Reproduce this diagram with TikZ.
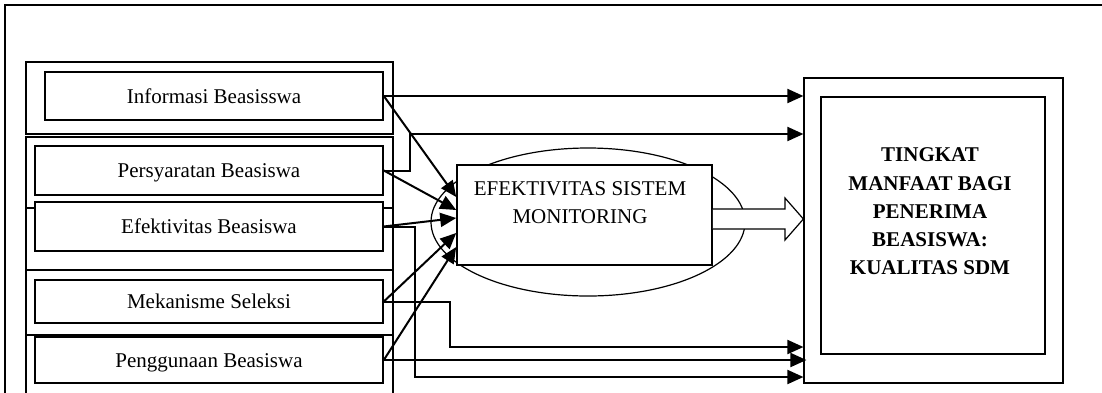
\documentclass[tikz,border=0pt]{standalone}
\usepackage{fontspec}
\setmainfont{Liberation Serif}
\usetikzlibrary{arrows.meta,shapes.geometric}
\begin{document}
\begin{tikzpicture}[x=1pt,y=-1pt,
  lbox/.style={draw,fill=white,line width=1.6pt,minimum width=348pt,inner sep=0pt,text height=14pt,text depth=0pt,font=\fontsize{21}{25}\selectfont},
  cont/.style={draw,line width=1.2pt},
  conn/.style={line width=2pt,-{Triangle[length=16pt,width=14pt]}},
  hollow/.style={line width=1.2pt,fill=white}
]
\useasboundingbox (0,0) rectangle (1102,392);
\clip (0,0) rectangle (1102,392);
\fill[white] (0,0) rectangle (1102,392);
\draw[line width=1.5pt] (5,400) -- (5,5) -- (1110,5);
% containers
\draw[cont] (26,62) rectangle (393,134);
\draw[cont] (26,137) rectangle (393,208);
\draw[cont] (26,208) rectangle (393,270);
\draw[cont] (26,270) rectangle (393,335);
\draw[cont] (26,335) rectangle (393,400);
% left boxes
\node[lbox,minimum width=338pt,minimum height=48pt] (inf) at (214,96) {Informasi Beasisswa};
\node[lbox,minimum height=49pt] (per) at (209,170.5) {Persyaratan Beasiswa};
\node[lbox,minimum height=49pt] (efb) at (209,226.5) {Efektivitas Beasiswa};
\node[lbox,minimum height=43pt] (mek) at (209,301.5) {Mekanisme Seleksi};
\node[lbox,minimum height=46pt] (pen) at (209,360) {Penggunaan Beasiswa};
% ellipse and monitoring box
\node[ellipse,draw,line width=1.2pt,minimum width=314pt,minimum height=148pt,inner sep=0pt] (ell) at (588,222) {};
\node[draw,fill=white,line width=1.6pt,minimum width=255pt,minimum height=100pt,inner sep=0pt] (mon) at (584.5,215) {};
\node[align=center,inner sep=0pt,font=\fontsize{21}{28}\selectfont] (montxt) at (580,203) {EFEKTIVITAS SISTEM\\MONITORING};
% right box
\node[draw,line width=1.2pt,minimum width=259pt,minimum height=305pt,inner sep=0pt] (rout) at (933.5,230.5) {};
\node[draw,line width=1.5pt,minimum width=224pt,minimum height=257pt,inner sep=0pt] (rin) at (933,225.5) {};
\node[align=center,inner sep=0pt,font=\fontsize{21}{28.3}\selectfont\bfseries] (res) at (930,211.5) {TINGKAT\\MANFAAT BAGI\\PENERIMA\\BEASISWA:\\KUALITAS SDM};
% connectors to result box
\draw[conn] (inf.east) -- (rout.west |- inf.east);
\draw[conn] (per.east) -| (410,134) -- (rout.west |- 0,134);
\draw[conn] (efb.east) -| (415,377) -- (rout.west |- 0,377);
\draw[conn] (mek.east) -| (450,347) -- (rout.west |- 0,347);
\draw[conn] (pen.east) -- ([xshift=3pt]rout.west |- pen.east);
% connectors to monitoring box
\draw[conn] (inf.east) -- (mon.west |- 0,197);
\draw[conn] (per.east) -- (mon.west |- 0,210);
\draw[conn] (efb.east) -- (mon.west |- 0,218);
\draw[conn] (mek.east) -- (mon.west |- 0,233);
\draw[conn] (pen.east) -- (mon.west |- 0,247);
% hollow arrow
\draw[hollow] (mon.east |- 0,209) -- (785,209) -- (785,198) -- (rout.west |- 0,219) -- (785,240) -- (785,229) -- (mon.east |- 0,229);
\end{tikzpicture}
\end{document}
